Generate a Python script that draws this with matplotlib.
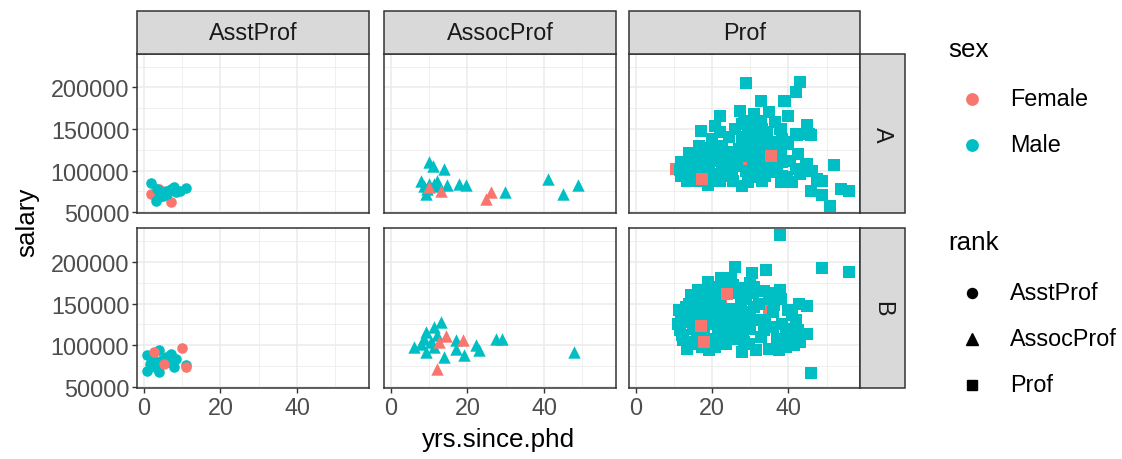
import matplotlib
matplotlib.use("Agg")
import matplotlib.pyplot as plt
from matplotlib.lines import Line2D
from matplotlib.patches import Rectangle

plt.rcParams['font.family'] = ['Liberation Sans', 'DejaVu Sans']

# ---------------- data (yrs.since.phd, salary) ----------------
ranks = ["AsstProf", "AssocProf", "Prof"]
disciplines = ["A", "B"]
sexes = ["Female", "Male"]
sex_colors = {"Female": "#F8766D", "Male": "#00BFC4"}
rank_markers = {"AsstProf": "o", "AssocProf": "^", "Prof": "s"}

a_asst_male = [(2.0, 84800), (4.4, 74000), (5.7, 76000), (6.1, 72000), (7.9, 80000),
               (8.3, 74000), (3.1, 64000), (11.1, 78800), (5.0, 70000), (3.5, 78000),
               (7.0, 78000), (4.0, 68000), (9.5, 76000)]
a_asst_female = [(2.0, 72000), (3.9, 78000), (7.0, 62000)]

b_asst_male = [(0.9, 88000), (0.9, 70000), (3.9, 94000), (3.9, 68000), (5.7, 86000),
               (7.0, 90000), (7.9, 74000), (8.3, 84000), (11.1, 77000), (1.7, 78000),
               (4.8, 82000), (6.5, 80000), (2.5, 84000), (3.0, 74000)]
b_asst_female = [(2.6, 92000), (5.2, 78000), (10.0, 96800), (11.1, 74000)]

a_assoc_male = [(10.0, 110000), (10.9, 106000), (14.0, 102000), (7.9, 88000), (10.0, 84000),
                (11.4, 84000), (12.7, 82000), (14.8, 82800), (17.9, 84000), (19.7, 82800),
                (9.2, 72000), (29.9, 74800), (40.9, 90000), (44.8, 72000), (48.9, 82800),
                (8.7, 82000), (12.2, 88000), (9.5, 78000)]
a_assoc_female = [(10.0, 80000), (13.1, 76000), (26.2, 74000), (24.9, 66000)]

b_assoc_male = [(13.1, 128000), (11.4, 122000), (9.2, 116000), (8.7, 108000), (6.1, 98000),
                (9.2, 92000), (10.5, 104000), (17.0, 106000), (17.0, 96000), (14.0, 86000),
                (19.0, 88000), (22.3, 100000), (22.9, 94800), (27.5, 108000), (29.0, 107200),
                (47.9, 92000), (7.9, 102000), (11.4, 98000), (12.0, 112000)]
b_assoc_female = [(14.4, 110800), (12.7, 104000), (18.8, 106000), (12.1, 72000)]

a_prof_male = [(29.0, 204800), (43.1, 206000), (42.0, 194800), (39.0, 184000), (32.8, 184000),
               (27.3, 172000), (22.1, 166000), (34.9, 170000), (31.0, 168000), (39.9, 166000),
               (27.9, 156000), (31.0, 156000), (20.9, 153200), (17.1, 148000), (44.8, 154800),
               (37.8, 150000), (45.8, 143200), (42.2, 143200), (22.1, 146000), (20.1, 138000),
               (27.9, 140000), (29.3, 146000), (32.3, 134000), (35.8, 134000), (38.4, 138000),
               (40.0, 132000), (13.9, 121200), (17.9, 126800), (20.9, 126000), (27.1, 126000),
               (30.6, 126000), (34.0, 126000), (37.6, 126000), (11.8, 110000), (14.8, 108000),
               (18.0, 110000), (21.5, 112000), (24.0, 112000), (30.6, 110000), (33.8, 108000),
               (38.4, 110000), (44.5, 108000), (52.0, 106800), (11.8, 94000), (16.2, 88000),
               (19.0, 82800), (24.9, 96000), (27.9, 82000), (31.0, 92000), (34.0, 94000),
               (38.4, 88000), (41.9, 102000), (44.9, 102000), (45.9, 76000), (48.9, 88000),
               (48.9, 71200), (53.7, 78000), (55.9, 76000), (50.9, 57200), (19.2, 102000),
               (22.7, 102000), (23.6, 96000), (35.5, 104000), (39.6, 92000), (47.6, 90000),
               (15.3, 90000), (20.9, 114000), (24.0, 104000), (25.3, 94000), (30.1, 154000),
               (27.9, 128000), (31.4, 98000), (38.0, 118000), (38.4, 94000), (44.9, 108000),
               (46.3, 100000), (51.9, 107000), (33.6, 130000), (32.7, 102000), (36.6, 102000),
               (38.0, 86000), (32.7, 120000), (32.7, 140000), (32.7, 160000), (13.0, 100000),
               (16.0, 118000), (25.0, 122000), (28.5, 118000), (31.0, 114000), (36.0, 112000),
               (26.0, 106000), (29.0, 100000), (35.0, 98000), (38.8, 184000), (41.9, 144000),
               (45.4, 144000), (38.0, 150000), (33.2, 150000), (39.3, 134000), (17.0, 148000),
               (14.0, 116000), (12.5, 104000), (15.0, 98000), (17.0, 104000), (18.5, 96000),
               (20.5, 92000), (22.0, 88000), (25.5, 88000), (16.5, 130000), (19.0, 120000),
               (22.5, 130000), (24.5, 140000), (26.0, 150000), (28.5, 160000), (30.0, 136000),
               (31.5, 143000), (34.5, 146000), (36.5, 158000), (35.0, 120000), (37.0, 100000),
               (40.5, 112000), (42.5, 120000), (43.0, 96000), (41.0, 86000), (33.0, 88000),
               (29.5, 86000), (26.5, 112000), (23.0, 120000), (11.5, 101000), (21.0, 96000),
               (13.5, 88000)]
a_prof_female_under = [(10.5, 102000), (27.5, 113200)]
a_prof_female_over = [(17.3, 90000), (35.5, 117200)]

b_prof_male = [(37.8, 232000), (34.2, 190000), (48.9, 192000), (55.9, 187200), (26.0, 194000),
               (22.3, 180000), (24.9, 180000), (29.9, 174000), (16.2, 166000), (20.1, 170000),
               (27.1, 162000), (34.9, 162000), (37.8, 166000), (30.6, 162000), (11.4, 142000),
               (13.1, 146000), (17.5, 150000), (25.3, 144000), (27.5, 150000), (32.3, 150000),
               (36.2, 148000), (42.8, 150000), (45.0, 147200), (41.0, 136000), (13.1, 130000),
               (12.2, 112000), (12.5, 106000), (15.0, 120000), (18.5, 126000), (22.0, 124000),
               (24.0, 116000), (27.1, 126000), (28.0, 114000), (32.3, 130000), (34.0, 130000),
               (38.4, 126000), (39.3, 114000), (45.0, 114000), (19.2, 94000), (20.9, 98000),
               (23.6, 102000), (27.9, 92000), (29.7, 102000), (32.8, 110000), (35.0, 96000),
               (37.6, 94000), (40.2, 108000), (46.0, 67200), (15.0, 102000), (25.5, 108000),
               (16.0, 156000), (19.0, 158000), (22.0, 150000), (20.0, 140000), (16.0, 136000),
               (21.0, 130000), (18.0, 114000), (14.0, 104000), (30.0, 120000), (36.0, 140000),
               (40.0, 142000), (38.0, 156000), (42.0, 130000), (31.0, 146000), (27.5, 168000),
               (30.0, 134000), (11.0, 125000), (11.5, 118000), (12.0, 135000), (14.0, 150000),
               (14.5, 160000), (15.5, 142000), (17.0, 140000), (18.0, 165000), (19.5, 148000),
               (21.0, 160000), (23.0, 172000), (24.5, 140000), (26.0, 132000), (26.5, 118000),
               (23.0, 110000), (20.0, 108000), (16.0, 110000), (14.0, 128000), (17.5, 98000),
               (21.5, 118000), (13.5, 96000), (24.0, 128000), (28.5, 140000), (29.0, 155000),
               (31.0, 170000), (33.5, 165000), (35.5, 155000), (36.0, 122000), (37.0, 108000),
               (40.0, 120000), (42.5, 118000), (43.0, 104000), (41.5, 100000), (39.5, 98000),
               (33.5, 118000), (31.5, 95000), (28.5, 104000), (22.5, 138000), (12.5, 140000),
               (30.5, 186000), (25.5, 172000), (19.0, 176000)]
b_prof_female_under = [(22.3, 155000), (25.3, 135000), (20.9, 126300), (34.9, 141200)]
b_prof_female_over = [(23.8, 161000), (17.0, 123200), (17.9, 104400)]

panels = {
    ("A", "AsstProf"): ([a_asst_female], a_asst_male, []),
    ("B", "AsstProf"): ([], b_asst_male, b_asst_female),
    ("A", "AssocProf"): ([], a_assoc_male, a_assoc_female),
    ("B", "AssocProf"): ([], b_assoc_male, b_assoc_female),
    ("A", "Prof"): ([a_prof_female_under], a_prof_male, a_prof_female_over),
    ("B", "Prof"): ([b_prof_female_under], b_prof_male, b_prof_female_over),
}

x_ticks = [0, 20, 40]
y_ticks = [50000, 100000, 150000, 200000]
x_lim = (-1.75, 58.75)
y_lim = (49113, 240232)

# ---------------- layout ----------------
W, H = 1122, 460
fig = plt.figure(figsize=(W / 100, H / 100), dpi=100)

def fx(px):
    return px / W

def fy(py):
    return 1 - py / H

col_x = [(137, 369), (384, 616), (629, 860)]
row_y = [(55, 214), (229, 389)]
strip_top = (12, 55)
strip_right = (860, 905)

border_col = "#333333"
grid_col = "#EBEBEB"
tick_col = "#4D4D4D"
strip_fill = "#D9D9D9"
msize = {"o": 58, "^": 80, "s": 64}
small_fs = 16.8
title_fs = 18.7

for ri, disc in enumerate(disciplines):
    for ci, rk in enumerate(ranks):
        x0, x1 = col_x[ci]
        y0, y1 = row_y[ri]
        ax = fig.add_axes([fx(x0), fy(y1), fx(x1) - fx(x0), fy(y0) - fy(y1)])
        ax.set_xlim(*x_lim)
        ax.set_ylim(*y_lim)
        ax.set_xticks(x_ticks)
        ax.set_yticks(y_ticks)
        ax.set_xticks([10, 30, 50], minor=True)
        ax.set_yticks([75000, 125000, 175000, 225000], minor=True)
        ax.grid(which="major", color=grid_col, linewidth=1.1)
        ax.grid(which="minor", color=grid_col, linewidth=0.55)
        ax.set_axisbelow(True)
        for sp in ax.spines.values():
            sp.set_color(border_col)
            sp.set_linewidth(1.1)
        ax.tick_params(which="minor", length=0)
        ax.tick_params(which="major", length=3.5, width=1.0, color=border_col,
                       labelsize=small_fs, labelcolor=tick_col, pad=2)
        if ri == 0:
            ax.tick_params(axis="x", which="major", length=0, labelbottom=False)
        if ci != 0:
            ax.tick_params(axis="y", which="major", length=0, labelleft=False)
        under, male, over = panels[(disc, rk)]
        m = rank_markers[rk]
        for lst in under:
            if lst:
                ax.scatter([p[0] for p in lst], [p[1] for p in lst], marker=m,
                           s=msize[m], color=sex_colors["Female"], linewidths=0)
        ax.scatter([p[0] for p in male], [p[1] for p in male], marker=m,
                   s=msize[m], color=sex_colors["Male"], linewidths=0)
        if over:
            ax.scatter([p[0] for p in over], [p[1] for p in over], marker=m,
                       s=msize[m], color=sex_colors["Female"], linewidths=0)

# top strips
for ci, rk in enumerate(ranks):
    x0, x1 = col_x[ci]
    fig.patches.append(Rectangle((fx(x0), fy(strip_top[1])), fx(x1) - fx(x0),
                                 fy(strip_top[0]) - fy(strip_top[1]),
                                 transform=fig.transFigure, facecolor=strip_fill,
                                 edgecolor=border_col, linewidth=1.1, zorder=0))
    fig.text(fx((x0 + x1) / 2), fy((strip_top[0] + strip_top[1]) / 2), rk,
             ha="center", va="center", fontsize=small_fs, color="#1A1A1A")

# right strips
for ri, disc in enumerate(disciplines):
    y0, y1 = row_y[ri]
    fig.patches.append(Rectangle((fx(strip_right[0]), fy(y1)), fx(strip_right[1]) - fx(strip_right[0]),
                                 fy(y0) - fy(y1), transform=fig.transFigure,
                                 facecolor=strip_fill, edgecolor=border_col,
                                 linewidth=1.1, zorder=0))
    fig.text(fx((strip_right[0] + strip_right[1]) / 2), fy((y0 + y1) / 2), disc,
             ha="center", va="center", rotation=-90, fontsize=small_fs, color="#1A1A1A")

# axis titles
fig.text(fx(27), fy(222), "salary", rotation=90, ha="center", va="center",
         fontsize=title_fs, color="black")
fig.text(fx(498), fy(440), "yrs.since.phd", ha="center", va="center",
         fontsize=title_fs, color="black")

# legends (drawn manually in figure coords)
leg_marker_x = 972
leg_text_x = 1010
fig.text(fx(948), fy(50), "sex", ha="left", va="center", fontsize=title_fs)
for yy, sx in zip([100, 146], sexes):
    fig.add_artist(Line2D([fx(leg_marker_x)], [fy(yy)], marker="o", markersize=8.2,
                          color=sex_colors[sx], linestyle="none", transform=fig.transFigure))
    fig.text(fx(leg_text_x), fy(yy), sx, ha="left", va="center", fontsize=small_fs)

fig.text(fx(948), fy(243), "rank", ha="left", va="center", fontsize=title_fs)
for yy, rk in zip([294, 340, 386], ranks):
    m = rank_markers[rk]
    ms = {"o": 7.2, "^": 8.5, "s": 7.0}[m]
    fig.add_artist(Line2D([fx(leg_marker_x)], [fy(yy)], marker=m, markersize=ms,
                          color="black", linestyle="none", transform=fig.transFigure))
    fig.text(fx(leg_text_x), fy(yy), rk, ha="left", va="center", fontsize=small_fs)

fig.savefig("out.png", dpi=100, facecolor="white")
